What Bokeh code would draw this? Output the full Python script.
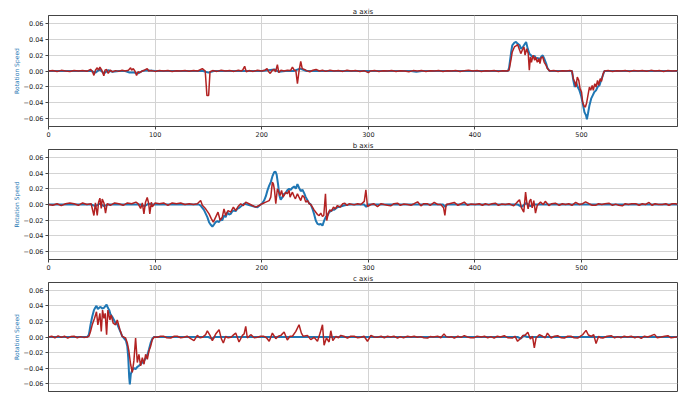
from bokeh.plotting import figure
from bokeh.layouts import column
from bokeh.models import Range1d, FixedTicker, CustomJSTickFormatter
from bokeh.embed import file_html
from bokeh.resources import INLINE

titles = ["a axis", "b axis", "c axis"]
x_ticks = [0, 100, 200, 300, 400, 500]
y_ticks = [-0.06, -0.04, -0.02, 0.0, 0.02, 0.04, 0.06]
y_label = "Rotation Speed"

# (sample, speed) pairs
a_blue = [(0,0),(40,0),(44,-0.002),(48,0.002),(52,-0.003),(56,0.001),(60,-0.001),(66,0),(72,0),(76,-0.002),
          (80,-0.002),(84,-0.003),(88,0),(92,0.001),(100,0),(145,0),(150,-0.002),(155,0),(200,0),(212,0.002),
          (216,-0.001),(222,0),(230,0),(236,0.003),(242,0),(300,0),(340,0),(345,-0.001),(350,0),(431,0),
          (432,0.004),(434,0.024),(435,0.0324),(437,0.0358),(438.5,0.0366),(440,0.0345),(442,0.0324),(443,0.0282),(445,0.0303),(446,0.0324),
          (448,0.0366),(449.5,0.0282),(451,0.0219),(452.6,0.0198),(454,0.0177),(456,0.019),(457,0.0156),(459,0.0164),(460.5,0.0147),(462,0.0177),
          (463.6,0.0198),(465,0.0156),(466.8,0.0093),(468,0.0038),(470,0),(491,0),(492.3,-0.0118),(493.6,-0.0202),(494.8,-0.0139),(496.4,-0.0202),
          (498,-0.0244),(499.5,-0.0307),(501,-0.04),(502.7,-0.0518),(504.2,-0.056),(505,-0.061),(506,-0.0539),(507.4,-0.0434),(509,-0.0349),(510.5,-0.0307),
          (512,-0.0265),(513.6,-0.0244),(515,-0.0202),(516.8,-0.0181),(518.3,-0.0118),(520,-0.0055),(521.4,0),(590,0)]

a_red = [(0,0),(4,0.0005),(8,-0.0005),(12,0.0008),(16,0),(20,-0.0006),(24,0.0005),(28,0),(32,0.0006),(36,-0.0004),
         (39.4,0.002),(41,0),(42.6,-0.0055),(44,0.001),(45.7,0.004),(47,0.001),(48.2,0.005),(50,0.001),(51.9,-0.006),(53,0.001),
         (54.5,0.002),(56,-0.003),(58,0.001),(60,-0.001),(63,0.0005),(66,-0.0005),(69,0.001),(72,0),(75,0.001),(77,0.004),
         (78,0.001),(79.5,0.003),(81,0),(82.6,-0.0055),(84,-0.001),(85.5,-0.002),(88,0),(90,0.001),(92.6,0.003),(94,0),
         (97,0.0005),(100,-0.0005),(104,0.0005),(108,0),(112,0.0006),(116,-0.0005),(120,0.0004),(124,0),(128,0.0005),(132,-0.0004),
         (136,0.0006),(140,0),(144.3,0.003),(147,0),(148.6,-0.031),(150.2,-0.031),(151.5,-0.001),(154,0.0005),(158,-0.0005),(162,0.001),
         (166,0),(170,0.0005),(174,-0.0005),(178,0.001),(181,0),(182.5,0.002),(184,0.006),(185.5,-0.001),(188,0.0005),(192,-0.0005),
         (196,0.001),(200,0),(203,0.001),(205,0.003),(206.5,-0.001),(208,-0.003),(210,0.001),(211.5,0.002),(213,-0.001),(214.7,0.008),
         (216,-0.002),(218,0.001),(221,0),(224,0.001),(227,0.0005),(228.8,0.005),(230.5,0.001),(232,0.0005),(233.5,-0.016),(235,0),
         (236.6,0.012),(238,0.003),(240,0.002),(242,0.0005),(245,-0.001),(248,0.001),(251,0.002),(254,0),(257,0.001),(260,-0.0005),
         (264,0.001),(268,0),(272,0.0005),(276,-0.0005),(280,0.001),(284,0),(288,0.0005),(292,-0.0005),(296,0.0004),(300,-0.002),
         (302,0),(306,0.0005),(310,-0.0005),(314,0.0004),(318,0),(322,0.0005),(326,-0.0005),(330,0.0004),(334,0),(338,-0.001),
         (342,0.0005),(346,0),(350,0.0005),(354,-0.0005),(358,0.0004),(362,0),(366,0.0005),(370,-0.0005),(374,0.0004),(378,0),
         (382,0.0005),(386,-0.0005),(390,0.0004),(394,0.001),(398,0),(402,0.0005),(406,-0.0005),(410,0.0004),(414,0),(418,0.0005),
         (422,-0.0005),(426,0.0004),(430,0),
         (432,0.001),(434,0.0156),(435,0.024),(437,0.0303),(438.5,0.0316),(440,0.0333),(442,0.026),(443,0.0219),(445,0.028),(446,0.0303),
         (447,0.02),(448.5,0.028),(450,0.0219),(451,0.001),(452,0.0177),(453,0.011),(454.5,0.0198),(456,0.0135),(457,0.0177),(458.5,0.011),
         (460,0.0156),(461,0.0093),(462,0.0164),(463.6,0.0177),(465,0.011),(466.8,0.007),(468,0.003),(470,0),(474,0.0005),(478,-0.0005),
         (482,0.0004),(486,0),(489,0.0005),(491,0),
         (492.3,-0.0097),(493.6,-0.0139),(494.8,-0.0202),(496,-0.0076),(497.4,-0.0118),(498.6,-0.0223),(500,-0.0265),(501,-0.0392),(502.4,-0.0442),(503.6,-0.0455),
         (504.8,-0.04),(506,-0.0307),(507.4,-0.0202),(508.6,-0.0244),(510,-0.0181),(511,-0.0244),(512.4,-0.016),(513.6,-0.0202),(515,-0.0118),(516,-0.0181),
         (517.5,-0.0097),(518.7,-0.013),(520,-0.0046),(521.4,0),
         (525,0.0005),(529,-0.0005),(533,0.0004),(537,0),(541,0.0005),(545,-0.0005),(549,0.0006),(553,0),(557,0.0005),(561,-0.0004),
         (565,0.0008),(569,0),(573,0.0005),(577,-0.0005),(581,0.0006),(585,0),(590,0.0004)]

b_blue = [(0,0),(40,0),(44,-0.002),(48,0.001),(52,-0.002),(56,0),(86,0),(90,-0.002),(94,0.001),(98,0),
          (133,0),(141,0),(142.7,-0.0013),(145.8,-0.0068),(149,-0.016),(150.6,-0.0225),(152,-0.0255),(153.7,-0.028),(155.2,-0.0255),(156.8,-0.0225),
          (158.4,-0.0213),(160,-0.0225),(161.5,-0.0183),(163,-0.0204),(164.6,-0.014),(166.2,-0.016),(167.8,-0.0098),(169.3,-0.0128),(170.9,-0.012),(172.4,-0.0085),
          (174,-0.0077),(175.6,-0.0085),(177,-0.0055),(178.7,-0.0043),(180.3,-0.0026),(183.4,0.0009),(186.5,0),(189.7,-0.0013),(192.8,-0.0026),(196,-0.0034),
          (199,0),(200.6,0.0017),(202.2,0.005),(203.8,0.0102),(205.4,0.018),(207,0.024),(208.5,0.0285),(210,0.0357),(211.6,0.041),(212.9,0.0417),
          (214,0.038),(215.3,0.026),(216.6,0.0115),(217.8,0.006),(219.4,0.0094),(221,0.0136),(222.5,0.0145),(224,0.018),(225.7,0.02),(227.2,0.0187),
          (228.8,0.0213),(230.4,0.023),(232,0.02),(233.5,0.026),(235,0.0213),(236.6,0.017),(238.2,0.0187),(239.8,0.0145),(241.3,0.0094),(243,0.005),
          (244.5,0.0017),(246,0),(247.6,-0.0055),(249.1,-0.012),(250.7,-0.0204),(252.3,-0.0247),(253.9,-0.0255),(255.4,-0.0247),(257,-0.0268),(258.6,-0.0204),
          (260,-0.016),(261.7,-0.014),(263.2,-0.0098),(264.8,-0.0085),(266.4,-0.0068),(268,-0.0068),(271,-0.0034),(274,-0.0026),(277,-0.0013),(280,-0.0004),
          (283.6,0),(296,0),(298,-0.003),(300,0),(370,0),(372,-0.003),(374,0),(440,0),(444,-0.003),(448,0.002),
          (452,-0.002),(456,0),(590,0)]

b_red = [(0,0),(4,-0.001),(8,0.001),(12,-0.0015),(16,0.001),(20,0.002),(24,0.001),(28,-0.001),(32,0.002),(36,0),
         (40,0.001),(42.6,-0.014),(44,0.002),(45.7,-0.014),(47,0.003),(48.2,0.008),(49.5,-0.005),(50.4,0.007),(52,0.002),(53.5,-0.011),
         (55,0.001),(58,-0.001),(62,0.002),(66,0.001),(70,-0.001),(74,0.002),(78,0.001),(82,0.003),(84,0.001),(86.4,-0.005),
         (88,0.002),(89.5,-0.012),(91,0.003),(92.6,0.009),(94,0.001),(95,-0.012),(96.5,0.003),(97.4,-0.003),(100,0.002),(104,0.001),
         (108,0.002),(112,-0.001),(116,0.002),(120,0.001),(124,0.002),(128,0),(132,0.001),(136,0),
         (139.6,0.001),(142.7,0.005),(144.3,-0.001),(147.4,-0.0055),(150.6,-0.012),(152.7,-0.018),(154.6,-0.0225),(156.8,-0.016),(159,-0.0098),(161,-0.02),
         (163,-0.016),(164.6,-0.0055),(166.2,-0.014),(168.4,-0.0077),(170.9,-0.0098),(173.4,-0.0034),(175.6,-0.0077),(177.8,-0.0026),(180.3,0.0009),(182.8,-0.0013),
         (185,0.003),(188,0.001),(191.2,-0.0013),(194.3,-0.0034),(197.5,-0.0013),(200.6,0.001),(203.8,0.003),(207,0.005),(208.5,0.0094),(210,0.0285),
         (211,0.026),(212,0.018),(213.2,0.001),(214.7,0.02),(216,0.0157),(217.2,0.0115),(218.6,0.018),(220,0.0094),(221,0.0115),(222.5,0.0157),
         (224,0.0136),(225.7,0.018),(226.6,0.0094),(228,0.0136),(228.8,0.0157),(230.4,0.0102),(231.6,0.0072),(233.5,0.0136),(235,0.0094),(236.6,0.005),
         (238.2,0.0115),(239.8,0.0094),(241.3,0.003),(243,0.005),(244.5,0.001),(246,0),(247.6,-0.0034),(249.1,-0.0068),(250.7,-0.0098),(252.3,-0.0128),
         (253.9,-0.014),(255.4,-0.011),(257,-0.0153),(258.2,-0.014),(259.8,0.0136),(261,-0.0204),(262.3,-0.0119),(263.8,-0.0068),(265.4,-0.0085),(267.3,-0.0034),
         (269,-0.0055),(271,-0.0013),(273.5,-0.0034),(276,0.001),(278,0.0017),(280,-0.0013),(282,0.001),
         (286.7,-0.0005),(290,0.001),(293,0),(296.2,0.004),(297.7,0.0187),(299.2,-0.0026),(302.4,0),(305,0.001),(308.6,-0.0026),(312,0.001),
         (314.9,0),(318,-0.001),(321,-0.0017),(324,0.001),(327.4,0.0017),(330,-0.001),(333,0.0005),(336.8,0),(340,-0.001),(343,0.001),
         (346.2,0.0034),(349.3,-0.0017),(352,0.001),(355.6,0.0009),(358,-0.001),(361.8,0.0026),(365,0),(368,0),(370.6,-0.0043),(371.8,-0.014),
         (373,0),(376,0.001),(380.6,0.0026),(384,-0.001),(387,0.001),(390,0.003),(393,-0.001),(396,0.0005),(400.4,0),(404,0.001),
         (407,-0.001),(409.8,0.0009),(413,-0.0005),(416,0.001),(419.2,0.0017),(422,-0.001),(425,0.0005),(428.6,0),(432,0.001),(436.4,-0.0017),
         (439.6,0.003),(441.8,0.006),(443.7,-0.0043),(445.8,-0.0098),(447.5,0.0157),(448.6,0.003),(449.9,-0.0055),(451.2,0.0043),(452.4,0.0068),(453.7,-0.0043),
         (455.2,0.005),(456.8,-0.011),(458.4,-0.0013),(461.5,0.003),(464,0),(466,0.004),(469.3,-0.0013),(472,0.001),(475.5,0.0017),(479,-0.001),
         (482,0.001),(485,0),(488,0.001),(491,-0.001),(494.5,0.0026),(498,0),(501,0.001),(503.8,0.0034),(507,0.001),(510,-0.001),
         (513.2,-0.0009),(516,0.001),(519,0),(522,0.001),(525.7,0.0017),(529,-0.001),(532,0.0005),(535,-0.001),(538.3,-0.0017),(541,0.001),
         (544,0),(547,0.001),(550.8,0.0009),(554,-0.001),(557,0.001),(560,0),(563.3,0.0026),(566,-0.001),(569,0.001),(572,0),
         (575.8,0),(579,0.001),(582,-0.001),(585,0.001),(588.3,0.0009),(590,0)]

c_blue = [(0,0),(36.3,0),(37.9,0.003),(39.4,0.0156),(41,0.026),(42.6,0.0345),(43.8,0.0375),(45,0.04),(46.3,0.0358),(47.6,0.0375),
          (48.8,0.0387),(50.4,0.0366),(52,0.0375),(53.5,0.04),(54.5,0.0417),(55.7,0.0375),(57,0.0345),(58.2,0.029),(59.8,0.026),(61.4,0.0219),
          (63,0.0177),(64.5,0.0164),(66,0.0114),(67.6,0.0063),(69.2,0.0008),(70.7,-0.0013),(72.6,-0.0046),(73.9,-0.0118),(74.8,-0.0265),(75.7,-0.0518),
          (76.3,-0.061),(77.2,-0.0476),(78.6,-0.0425),(80.1,-0.04),(81.7,-0.0413),(83.3,-0.0383),(84.8,-0.037),(86.4,-0.035),(88,-0.0328),(89.6,-0.0307),
          (91.1,-0.0274),(92.7,-0.0232),(94.2,-0.016),(95.8,-0.0076),(97.4,-0.0021),(99,0),(150,0),(153,-0.002),(156,0),(440,0),
          (443,-0.002),(446,0.002),(449,0),(590,0)]

c_red = [(0,0),(3,0.001),(6,-0.001),(9,0.0015),(12,-0.0005),(15,0.001),(18,-0.0015),(21,0.0005),(24,0.001),(27,-0.001),
         (30,0.0005),(33,-0.0005),(36.3,0),(37.9,0.0008),(39.4,0.007),(41,0.0156),(43.2,0.024),(45,0.0324),(46.3,0.0156),(48.2,0.0303),
         (49.5,0.007),(50.7,0.0345),(52,0.024),(53.2,0.0303),(54.5,0.003),(55.7,0.0345),(57.6,0.0219),(58.8,0.0282),(60.7,0.0177),(62.9,0.0156),
         (64.5,0.0219),(67,0.0093),(69.2,0.0008),(72.3,-0.0013),(73.9,-0.0076),(75.4,-0.018),(77,-0.035),(78.6,-0.0455),(80.1,-0.0307),(81.7,-0.0013),
         (83.3,-0.0328),(84.8,-0.0223),(86.4,-0.037),(88,-0.0265),(89.6,-0.035),(91.1,-0.0223),(92.7,-0.0286),(94.2,-0.018),(95.8,-0.0118),(97.4,-0.0034),
         (99,0),(102,-0.0004),(105,0.001),(108.3,0.0009),(111,-0.001),(114.6,-0.0013),(118,0.001),(120.8,0.0009),(124,-0.001),(127,-0.0004),
         (130,0.001),(133.4,-0.0021),(136.5,-0.0047),(139.6,0.0021),(142,-0.001),(144.3,-0.0004),(147.4,0.003),(149,0.008),(151.5,0.0021),(153.7,-0.0047),
         (156.8,0.0038),(160,0.0094),(162.1,-0.0021),(164,-0.0077),(166.2,0.0009),(168.5,-0.001),(171,-0.0004),(173,0.002),(175.6,0.005),(178.7,-0.0064),
         (181.9,0.0021),(183.5,0.004),(185,0.0136),(186.5,-0.0013),(189.7,0.003),(193,-0.001),(196,-0.0004),(199,0.001),(202,0.0009),(204.5,-0.001),
         (207,-0.0055),(210,0.005),(213.2,-0.0021),(215.5,0.001),(218,0.0021),(221,0.0064),(224,-0.0038),(226.5,0.001),(228.8,0.0009),(232,0.0072),
         (235,0.0157),(237.2,0.005),(239,0.0009),(242.9,0.0021),(246,-0.0034),(249.1,-0.0004),(252.3,-0.0055),(254.8,0.005),(257,0.0157),(258.5,-0.0106),
         (260.7,-0.0013),(263.2,-0.0064),(264.8,0.008),(266.7,-0.0047),(269.5,0.0009),(272,-0.001),(274.2,0.0021),(277,0.001),(280.4,-0.0013),(283.5,0.001),
         (286.7,0.0009),(290,-0.001),(293,-0.0004),(296,0.001),(299.2,-0.0055),(302.4,0.0021),(305.5,0),(308.6,-0.0004),(312,0.001),(315,-0.001),
         (318,0.0009),(321,0),(324,0.001),(327.4,-0.0013),(330,0.0005),(333,-0.001),(336.8,0.0009),(340,0),(343,0.001),(346,-0.0004),
         (349,0.0005),(352,-0.001),(355.6,-0.0013),(358,0.0005),(361,0),(365,0.0009),(368,-0.001),(371,0.004),(373,0.0005),(375.8,-0.0004),
         (378,0.0005),(380.6,-0.0013),(384,0.001),(387,-0.0005),(390,0.0017),(393,0),(396,-0.001),(399.4,-0.0009),(402,0.001),(406,0),
         (409,0.0009),(412,-0.001),(415,0.0005),(418,-0.0013),(421,0.001),(424,0),(427.5,0.0017),(431,-0.001),(435.4,-0.0013),(437.5,0.001),
         (440,-0.0055),(443.3,-0.0013),(445,0.002),(447,0.0021),(449.6,0.006),(452,-0.0026),(454,0.0009),(455.7,-0.014),(457.3,-0.0013),(460.4,0.0029),
         (463.5,0.0009),(466,-0.001),(468,0.005),(471.4,-0.0013),(474.5,0.001),(477.6,0.0017),(481,-0.001),(483.9,-0.0013),(487,0.001),(490,0.0009),
         (493,-0.001),(496.4,-0.0013),(499,0.001),(501,0.0029),(504.2,0.0085),(506.4,0.0026),(509,0.0009),(511.4,0.0029),(513.6,-0.0085),(516,0.0009),
         (518,-0.001),(520,-0.0013),(524,0.001),(527.8,0.0017),(531,-0.001),(534,0.0005),(537.2,-0.0009),(540,0.001),(543,0),(546.6,0.0009),
         (550,-0.001),(553,0.0005),(556,-0.0017),(559,0.001),(562,0),(565.4,0.0017),(568.4,0.0034),(571,-0.001),(574.6,0),(578,0.001),
         (581,0.0017),(584,-0.001),(588.8,0),(590,0.0005)]

BLUE = "#1f77b4"
RED = "#b22222"
FONT = "DejaVu Sans"


def make(title, blue, red, show_x, frame_h, top):
    p = figure(frame_width=629, frame_height=frame_h, output_backend="svg", toolbar_location=None,
               x_range=Range1d(0, 590), y_range=Range1d(-0.07, 0.07),
               min_border_left=48, min_border_right=5, min_border_top=top,
               min_border_bottom=0 if show_x else 3, title=title)
    p.title.text_font_size = "7px"
    p.title.text_font_style = "normal"
    p.title.text_font = FONT
    p.title.text_color = "#222222"
    p.title.align = "center"
    p.title.standoff = 0
    p.background_fill_color = "white"
    p.border_fill_color = "white"
    p.outline_line_color = "#444444"
    p.outline_line_width = 1
    p.grid.grid_line_color = "#d3d3d3"
    p.grid.grid_line_width = 1

    p.xaxis.ticker = FixedTicker(ticks=x_ticks)
    p.yaxis.ticker = FixedTicker(ticks=y_ticks)
    p.yaxis.formatter = CustomJSTickFormatter(code="return tick.toFixed(2).replace('-', '\u2212');")
    for ax in (p.xaxis[0], p.yaxis[0]):
        ax.axis_line_color = "#444444"
        ax.major_tick_line_color = "#444444"
        ax.major_tick_out = 3
        ax.major_tick_in = 0
        ax.minor_tick_out = 0
        ax.minor_tick_in = 0
        ax.major_label_text_font_size = "6.5px"
        ax.major_label_text_font = FONT
        ax.major_label_text_color = "#222222"
        ax.major_label_standoff = 2
    p.yaxis.axis_label = y_label
    p.yaxis.axis_label_text_font_size = "6px"
    p.yaxis.axis_label_text_font = FONT
    p.yaxis.axis_label_text_font_style = "normal"
    p.yaxis.axis_label_text_color = BLUE
    p.yaxis.axis_label_standoff = 1
    if not show_x:
        p.xaxis.visible = False

    bx, by = zip(*blue)
    rx, ry = zip(*red)
    p.line(list(bx), list(by), line_color=BLUE, line_width=2.0)
    p.line(list(rx), list(ry), line_color=RED, line_width=1.5)
    return p


p1 = make(titles[0], a_blue, a_red, True, 111, 15)
p2 = make(titles[1], b_blue, b_red, True, 110, 0)
p3 = make(titles[2], c_blue, c_red, False, 109, 0)
layout = column(p1, p2, p3, spacing=0)

open("out.html", "w").write(file_html(layout, INLINE))
